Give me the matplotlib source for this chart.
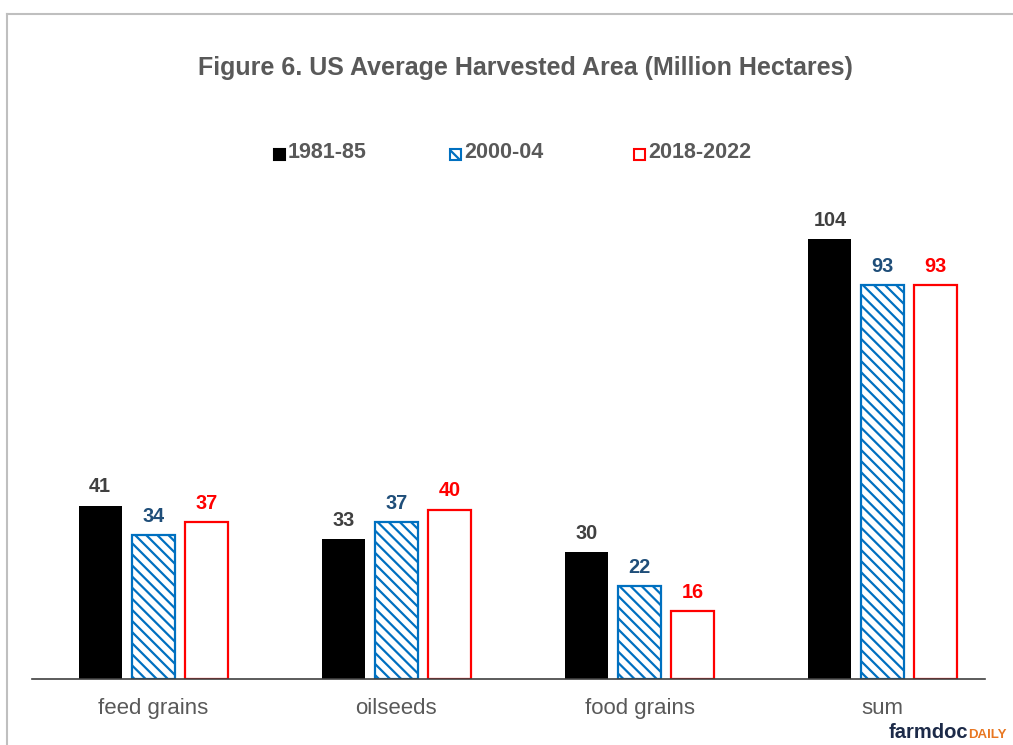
import matplotlib
matplotlib.use("Agg")
import matplotlib.pyplot as plt
from matplotlib.lines import Line2D
from matplotlib.patches import Rectangle
import numpy as np

plt.rcParams['font.family'] = ['Liberation Sans', 'DejaVu Sans']
plt.rcParams['hatch.linewidth'] = 1.6

categories = ["feed grains", "oilseeds", "food grains", "sum"]
series_names = ["1981-85", "2000-04", "2018-2022"]
v1981 = [41, 33, 30, 104]
v2000 = [34, 37, 22, 93]
v2018 = [37, 40, 16, 93]

W, H = 1013, 745
fig = plt.figure(figsize=(W/100, H/100), dpi=100)
ax = fig.add_axes([32/W, 1-679/H, (985-32)/W, (679-200)/H])

x = np.arange(len(categories))
bw = 0.177
off = 0.218
blue = "#0070C0"
red = "#FF0000"

ax.bar(x-off, v1981, bw, color="black", edgecolor="black", linewidth=0)
ax.bar(x, v2000, bw, color="white", edgecolor=blue, hatch="\\\\\\", linewidth=1.6)
ax.bar(x+off, v2018, bw, color="white", edgecolor=red, linewidth=1.6)

lab_cols = ["#404040", "#1F4E79", "#FF0000"]
for xs, vals, c in [(x-off, v1981, lab_cols[0]), (x, v2000, lab_cols[1]), (x+off, v2018, lab_cols[2])]:
    for xi, v in zip(xs, vals):
        ax.text(xi, v+2.2, f"{v}", ha="center", va="bottom", fontsize=14.3, fontweight="bold", color=c)

ax.set_xlim(-0.498, 3.42)
ax.set_ylim(0, 113.2)
ax.set_yticks([])
ax.set_xticks(x)
ax.set_xticklabels(categories, fontsize=16, color="#595959")
ax.tick_params(axis='x', length=0, pad=14)
for s in ["top", "right", "left"]:
    ax.spines[s].set_visible(False)
ax.spines["bottom"].set_color("#404040")
ax.spines["bottom"].set_linewidth(1.2)

fig.text(525/W, 1-68/H, "Figure 6. US Average Harvested Area (Million Hectares)",
         ha="center", va="center", fontsize=18, fontweight="bold", color="#595959")

# legend
leg_items = [(274, dict(facecolor="black", edgecolor="black")),
             (450, dict(facecolor="white", edgecolor=blue, hatch="\\\\\\")),
             (634, dict(facecolor="white", edgecolor=red))]
for (lx, kw), name in zip(leg_items, series_names):
    sz = 11
    r = Rectangle((lx/W, 1-(154+sz/2)/H), sz/W, sz/H, transform=fig.transFigure,
                  linewidth=1.5, **kw)
    fig.add_artist(r)
    fig.text((lx+sz+3)/W, 1-153/H, name, ha="left", va="center", fontsize=15.5,
             fontweight="bold", color="#595959")

# border
fig.add_artist(Line2D([7/W, 1], [1-14/H, 1-14/H], transform=fig.transFigure, color="#BFBFBF", lw=1.5))
fig.add_artist(Line2D([7/W, 7/W], [0, 1-14/H], transform=fig.transFigure, color="#BFBFBF", lw=1.5))

# logo
t1 = fig.text(889/W, 1-733/H, "farmdoc", ha="left", va="center", fontsize=14.5,
              fontweight="bold", color="#1C2A48")
fig.canvas.draw()
bb = t1.get_window_extent()
fig.text(bb.x1/W, 1-735/H, "DAILY", ha="left", va="center", fontsize=9.5,
         fontweight="bold", color="#E87722")

fig.savefig("out.png", dpi=100)
